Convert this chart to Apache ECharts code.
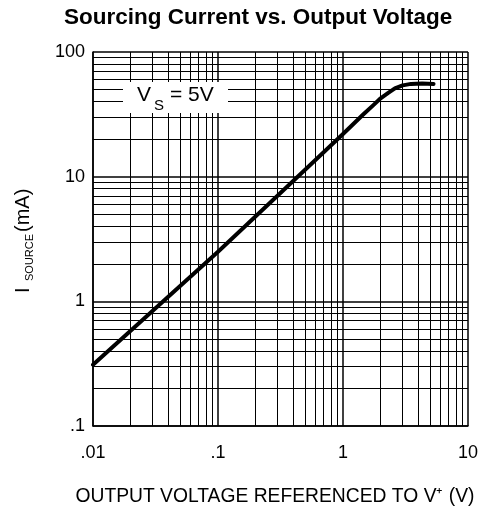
<!DOCTYPE html>
<html>
<head>
<meta charset="utf-8">
<script src="https://cdn.jsdelivr.net/npm/echarts@6/dist/echarts.min.js"></script>
<style>
  html, body { margin: 0; padding: 0; background: #fff; }
  #chart { width: 487px; height: 512px; }
</style>
</head>
<body>
<div id="chart"></div>
<script>
// output voltage referenced to V+ (V) and sourcing current (mA)
var voltage = [0.01, 0.02, 0.1, 0.5, 1, 1.45, 1.75, 2, 2.3, 2.6, 3, 3.5, 4.3, 5.3];
var current = [0.31, 0.58, 2.5, 11.4, 22, 31.5, 37.5, 42.5, 47, 51, 54, 55.5, 56, 55.5];

var xTickText = { 0.01: '.01', 0.1: '.1', 1: '1', 10: '10' };
var yTickText = { 0.1: '.1', 1: '1', 10: '10', 100: '100' };

var xDecades = [0.01, 0.1, 1];
var yDecades = [0.1, 1, 10];
var minorSteps = [2, 3, 4, 5, 6, 7, 8, 9];

var FONT = 'Liberation Sans, Arial, Helvetica, sans-serif';

var pts = [];
for (var i = 0; i < voltage.length; i++) pts.push([voltage[i], current[i]]);

var gridLines = [];
xDecades.forEach(function (d) {
  minorSteps.forEach(function (m) { gridLines.push({ xAxis: +(d * m).toPrecision(3) }); });
});
yDecades.forEach(function (d) {
  minorSteps.forEach(function (m) { gridLines.push({ yAxis: +(d * m).toPrecision(3) }); });
});

var myChart = echarts.init(document.getElementById('chart'), null, { renderer: 'canvas' });

var option = {
  animation: false,
  backgroundColor: '#fff',
  title: {
    text: 'Sourcing Current vs. Output Voltage',
    left: 59,
    top: 1,
    textStyle: { fontFamily: FONT, fontSize: 22.5, fontWeight: 'bold', color: '#000' }
  },
  grid: { left: 93, right: 19, top: 52, bottom: 86 },
  xAxis: {
    type: 'log',
    logBase: 10,
    min: 0.01,
    max: 10,
    name: 'OUTPUT VOLTAGE REFERENCED TO V\u207A (V)',
    nameLocation: 'middle',
    nameGap: 61,
    nameTextStyle: { fontFamily: FONT, fontSize: 19.3, color: '#000', padding: [0, 11, 0, 0] },
    axisLine: { show: true, lineStyle: { color: '#000', width: 1.5 } },
    axisTick: { show: false },
    axisLabel: {
      margin: 18,
      fontFamily: FONT, fontSize: 18, color: '#000',
      formatter: function (v) { return xTickText[+v.toPrecision(3)] || ''; }
    },
    splitLine: { show: true, lineStyle: { color: '#000', width: 1.5 } }
  },
  yAxis: {
    type: 'log',
    logBase: 10,
    min: 0.1,
    max: 100,
    axisLine: { show: true, lineStyle: { color: '#000', width: 1.5 } },
    axisTick: { show: false },
    axisLabel: {
      margin: 8,
      fontFamily: FONT, fontSize: 18, color: '#000',
      formatter: function (v) { return yTickText[+v.toPrecision(3)] || ''; }
    },
    splitLine: { show: true, lineStyle: { color: '#000', width: 1.5 } }
  },
  series: [
    {
      // minor grid, 2..9 in every decade
      type: 'line',
      z: 1,
      data: [],
      silent: true,
      markLine: {
        silent: true,
        symbol: ['none', 'none'],
        label: { show: false },
        lineStyle: { color: '#000', width: 1, type: 'solid' },
        emphasis: { disabled: true },
        data: gridLines
      }
    },
    {
      type: 'line',
      z: 5,
      data: pts,
      showSymbol: false,
      lineStyle: { color: '#000', width: 4, join: 'round', cap: 'round' }
    }
  ],
  graphic: [
    { type: 'rect', z: 100, shape: { x: 123, y: 82, width: 105, height: 31 }, style: { fill: '#fff' } },
    { type: 'text', z: 101, x: 137, y: 95.5, style: { text: 'V', fontFamily: FONT, fontSize: 21, fill: '#000', verticalAlign: 'middle' } },
    { type: 'text', z: 101, x: 154, y: 105.5, style: { text: 'S', fontFamily: FONT, fontSize: 15, fill: '#000', verticalAlign: 'middle' } },
    { type: 'text', z: 101, x: 170, y: 95.5, style: { text: '= 5V', fontFamily: FONT, fontSize: 21, fill: '#000', verticalAlign: 'middle' } },
    {
      type: 'group',
      x: 33,
      y: 293,
      rotation: Math.PI / 2,
      z: 100,
      children: [
        { type: 'text', x: 0, y: 0, style: { text: 'I', fontFamily: FONT, fontSize: 20, fill: '#000', verticalAlign: 'bottom' } },
        { type: 'text', x: 12, y: 2, style: { text: 'SOURCE', fontFamily: FONT, fontSize: 11, fill: '#000', verticalAlign: 'bottom' } },
        { type: 'text', x: 61, y: 0, style: { text: '(mA)', fontFamily: FONT, fontSize: 20, fill: '#000', verticalAlign: 'bottom' } }
      ]
    }
  ]
};

myChart.setOption(option);
</script>
</body>
</html>
